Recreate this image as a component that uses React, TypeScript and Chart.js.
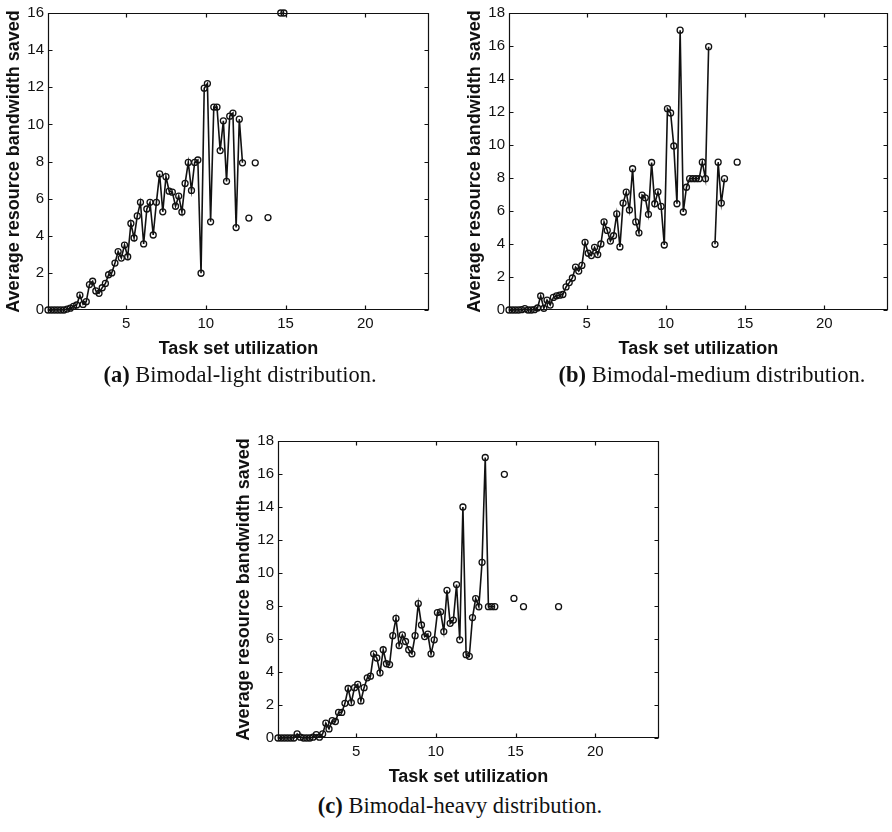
import React, { useEffect, useRef } from "react";
import { Chart, registerables } from "chart.js";
Chart.register(...registerables);

// Utilization grid: first sample and spacing between samples
const UTIL_START = 0.1;
const UTIL_STEP = 0.2;

// (a) Bimodal-light
const lightSaved: (number | null)[] = [
  0, 0, 0, 0, 0, 0, 0.05, 0.1, 0.2, 0.27,
  0.8, 0.3, 0.45, 1.37, 1.55, 1.03, 0.9, 1.2, 1.43, 1.9,
  2.0, 2.53, 3.15, 2.8, 3.5, 2.87, 4.66, 3.88, 5.07, 5.8,
  3.56, 5.44, 5.8, 4.04, 5.8, 7.33, 5.29, 7.18, 6.4, 6.35,
  5.59, 6.14, 5.28, 6.82, 7.95, 6.44, 7.95, 8.08, 1.98, 11.95,
  12.2, 4.75, 10.93, 10.93, 8.59, 10.19, 6.93, 10.44, 10.61, 4.44,
  10.28, 7.93, null, 4.95, null, 7.93, null, null, null, 4.98,
  null, null, null, 16, 16,
];

// (b) Bimodal-medium
const mediumSaved: (number | null)[] = [
  0, 0, 0, 0, 0.02, 0.08, 0, 0, 0.02, 0.12,
  0.85, 0.1, 0.6, 0.3, 0.76, 0.86, 0.9, 0.94, 1.4, 1.66,
  1.94, 2.6, 2.36, 2.7, 4.1, 3.44, 3.3, 3.8, 3.36, 4.0,
  5.34, 4.82, 4.18, 4.5, 5.82, 3.82, 6.48, 7.14, 6.06, 8.56,
  5.34, 4.68, 6.96, 6.8, 5.8, 8.94, 6.44, 7.16, 6.28, 3.94,
  12.2, 11.94, 9.94, 6.44, 16.96, 5.94, 7.44, 7.96, 7.96, 7.96,
  7.96, 8.96, 7.96, 15.96, null, 3.98, 8.96, 6.48, 7.96, null,
  null, null, 8.96,
];

// (c) Bimodal-heavy
const heavySaved: (number | null)[] = [
  0, 0, 0, 0, 0, 0, 0.25, 0.05, 0, 0,
  0, 0.05, 0.2, 0.05, 0.25, 0.9, 0.55, 1.05, 1.0, 1.55,
  1.55, 2.1, 3.0, 2.15, 3.05, 3.25, 2.25, 3.05, 3.65, 3.75,
  5.1, 4.85, 3.95, 5.35, 4.5, 4.45, 6.2, 7.25, 5.6, 6.25,
  5.85, 5.35, 5.1, 6.2, 8.15, 6.85, 6.15, 6.3, 5.1, 5.95,
  7.6, 7.65, 6.45, 8.95, 6.95, 7.15, 9.3, 5.95, 14.0, 5.05,
  4.95, 7.3, 8.45, 7.95, 10.65, 17.0, 7.96, 7.96, 7.96, null,
  null, 15.98, null, null, 8.46, null, null, 7.96, null, null,
  null, null, null, null, null, null, null, null, 7.96,
];

const xTickValues = [5, 10, 15, 20];
const yTicks16 = [0, 2, 4, 6, 8, 10, 12, 14, 16];
const yTicks18 = [0, 2, 4, 6, 8, 10, 12, 14, 16, 18];
const X_MIN = 0.1;
const X_MAX = 24;

const xTitle = "Task set utilization";
const yTitle = "Average resource bandwidth saved";

const SANS = "'Liberation Sans', Arial, Helvetica, sans-serif";
const SERIF = "'Liberation Serif', 'Times New Roman', serif";
const INK = "#111";

function toPoints(vals: (number | null)[]) {
  return vals.map((v, i) => ({ x: +(UTIL_START + UTIL_STEP * i).toFixed(2), y: v }));
}

const framePlugin = {
  id: "frame",
  afterDraw(chart: any) {
    const { ctx, chartArea } = chart;
    const { left, right, top, bottom } = chartArea;
    const xs = chart.scales.x;
    const ys = chart.scales.y;
    const L = Math.round(left) + 0.5;
    const R = Math.round(right) - 0.5;
    const T = Math.round(top) + 0.5;
    const B = Math.round(bottom) - 0.5;
    const tl = 4;
    ctx.save();
    ctx.strokeStyle = INK;
    ctx.lineWidth = 1.2;
    ctx.beginPath();
    ctx.rect(L, T, R - L, B - T);
    xs.ticks.forEach((t: any) => {
      const px = Math.round(xs.getPixelForValue(t.value)) + 0.5;
      ctx.moveTo(px, B);
      ctx.lineTo(px, B - tl);
      ctx.moveTo(px, T);
      ctx.lineTo(px, T + tl);
    });
    ys.ticks.forEach((t: any) => {
      const py = Math.round(ys.getPixelForValue(t.value)) + 0.5;
      ctx.moveTo(L, py);
      ctx.lineTo(L + tl, py);
      ctx.moveTo(R, py);
      ctx.lineTo(R - tl, py);
    });
    ctx.stroke();
    ctx.restore();
  },
};

type PanelProps = {
  left: number;
  top: number;
  width: number;
  height: number;
  padRight: number;
  values: (number | null)[];
  yMax: number;
  yTicks: number[];
};

function Panel({ left, top, width, height, padRight, values, yMax, yTicks }: PanelProps) {
  const ref = useRef<HTMLCanvasElement | null>(null);
  useEffect(() => {
    if (!ref.current) return;
    const chart = new Chart(ref.current, {
      type: "line",
      data: {
        datasets: [
          {
            data: toPoints(values) as any,
            borderColor: INK,
            borderWidth: 1.6,
            pointRadius: 3,
            pointBorderWidth: 1.3,
            pointBackgroundColor: "rgba(255,255,255,0)",
            pointBorderColor: INK,
            pointHoverRadius: 3,
            tension: 0,
            spanGaps: false,
            clip: false as any,
          },
        ],
      },
      options: {
        responsive: false,
        animation: false,
        events: [],
        layout: { padding: { top: 10, right: padRight, left: 0, bottom: 0 } },
        plugins: { legend: { display: false }, tooltip: { enabled: false } },
        scales: {
          x: {
            type: "linear",
            min: X_MIN,
            max: X_MAX,
            afterBuildTicks: (s: any) => {
              s.ticks = xTickValues.map((v) => ({ value: v }));
            },
            afterFit: (s: any) => {
              s.height = height - 310;
            },
            grid: { display: false, drawTicks: false },
            border: { display: false },
            ticks: {
              font: { family: SANS, size: 15 },
              color: INK,
              padding: 5,
              maxRotation: 0,
              autoSkip: false,
              callback: (v: any) => String(v),
            },
            title: {
              display: true,
              text: xTitle,
              font: { family: SANS, size: 18, weight: "bold" },
              color: INK,
              padding: { top: 0, bottom: 2 },
            },
          },
          y: {
            type: "linear",
            min: 0,
            max: yMax,
            afterBuildTicks: (s: any) => {
              s.ticks = yTicks.map((v) => ({ value: v }));
            },
            afterFit: (s: any) => {
              s.width = 48;
            },
            grid: { display: false, drawTicks: false },
            border: { display: false },
            ticks: {
              font: { family: SANS, size: 15 },
              color: INK,
              padding: 4,
              autoSkip: false,
              callback: (v: any) => String(v),
            },
            title: {
              display: true,
              text: yTitle,
              font: { family: SANS, size: 18, weight: "bold" },
              color: INK,
              padding: { top: 3, bottom: 0 },
            },
          },
        },
      },
      plugins: [framePlugin],
    });
    return () => chart.destroy();
  }, []);
  return (
    <canvas
      ref={ref}
      width={width}
      height={height}
      style={{ position: "absolute", left, top, width, height }}
    />
  );
}

function Caption({ cx, cy, tag, text }: { cx: number; cy: number; tag: string; text: string }) {
  return (
    <div
      style={{
        position: "absolute",
        left: cx - 250,
        top: cy - 14,
        width: 500,
        height: 28,
        lineHeight: "28px",
        textAlign: "center",
        fontFamily: SERIF,
        fontSize: 22.5,
        color: INK,
        whiteSpace: "nowrap",
      }}
    >
      <b>{tag}</b> {text}
    </div>
  );
}

export default function App() {
  return (
    <div style={{ position: "absolute", left: 0, top: 0, width: 892, height: 832, background: "#fff" }}>
      <Panel left={0} top={0} width={440} height={362} padRight={11} values={lightSaved} yMax={16} yTicks={yTicks16} />
      <Panel left={461} top={0} width={431} height={362} padRight={3} values={mediumSaved} yMax={18} yTicks={yTicks18} />
      <Panel left={230} top={428} width={440} height={362} padRight={11} values={heavySaved} yMax={18} yTicks={yTicks18} />
      <Caption cx={240} cy={375} tag="(a)" text="Bimodal-light distribution." />
      <Caption cx={712} cy={375} tag="(b)" text="Bimodal-medium distribution." />
      <Caption cx={460} cy={806} tag="(c)" text="Bimodal-heavy distribution." />
    </div>
  );
}
